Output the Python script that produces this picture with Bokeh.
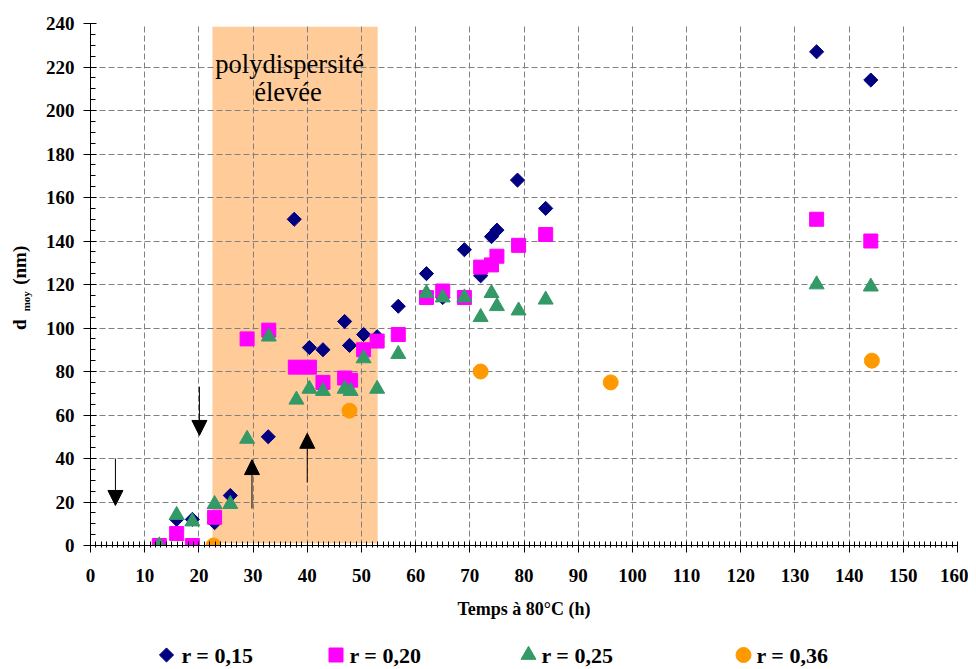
from math import pi
from bokeh.plotting import figure
from bokeh.models import Range1d, SingleIntervalTicker, Label, Arrow, NormalHead
from bokeh.layouts import column, row
from bokeh.embed import file_html
from bokeh.resources import INLINE
from bokeh.core.properties import value

# ---- data ----
r15_x = [15.9, 18.8, 22.9, 25.8, 32.8, 37.6, 40.4, 42.9, 46.9, 47.8, 50.4, 52.9, 56.8, 62, 65, 69, 72, 74, 75, 78.8, 84, 134, 144]
r15_y = [12, 12, 10.5, 23, 50, 150, 91, 90, 103, 92, 97, 96, 110, 125, 114, 136, 124, 142, 145, 168, 155, 227, 214]

r20_x = [12.7, 15.9, 18.8, 22.9, 28.9, 32.9, 37.8, 40.4, 42.9, 46.9, 48, 50.4, 52.9, 56.8, 62, 65, 69, 72, 74, 75, 79, 84, 134, 144]
r20_y = [0, 5.5, 0, 13, 95, 99, 82, 82, 75, 77, 76, 90, 94, 97, 114, 117, 114, 128, 129, 133, 138, 143, 150, 140]

r25_x = [12.7, 15.9, 18.8, 22.9, 25.8, 28.9, 32.9, 38, 40.4, 42.9, 46.9, 48, 50.4, 52.9, 56.8, 62, 65, 69, 72, 74, 75, 79, 84, 134, 144]
r25_y = [0, 14, 11, 19, 19, 49, 96, 67, 72, 71, 72, 71, 86, 72, 88, 116, 114, 114, 105, 116, 110, 108, 113, 120, 119]

r36_x = [22.7, 47.8, 72, 96, 144.2]
r36_y = [0, 62, 80, 75, 85]

series_names = ["r = 0,15", "r = 0,20", "r = 0,25", "r = 0,36"]

band_start, band_end, band_bottom, band_top = 22.5, 53, 1, 238.5
band_text = ["polydispersité", "élevée"]

arrow_x = [4.6, 20.1, 29.8, 40.0]
arrow_y_start = [40, 73, 17, 29]
arrow_y_end = [18.4, 50.6, 39.5, 51.6]

x_label = "Temps à 80°C (h)"
y_label_parts = ["d", "moy", "(nm)"]

NAVY, MAGENTA, GREEN, ORANGE = "#000080", "#FF00FF", "#339966", "#FF9900"
BAND = "#FFCC99"
FONT_NAME = "Liberation Serif"
FONT = value(FONT_NAME)

MAIN_H = 624
YLAB_W = 34

# ---- main figure ----
p = figure(width=934, height=MAIN_H, x_range=Range1d(0, 160), y_range=Range1d(0, 240),
           output_backend="svg", toolbar_location=None,
           min_border_left=56, min_border_right=11, min_border_top=23, min_border_bottom=79)
p.outline_line_color = None

xt = SingleIntervalTicker(interval=10, num_minor_ticks=10)
yt = SingleIntervalTicker(interval=20, num_minor_ticks=4)
p.xaxis.ticker = xt
p.yaxis.ticker = yt
p.xgrid.ticker = xt
p.ygrid.ticker = yt

for g in (p.xgrid, p.ygrid):
    g.grid_line_color = "#808080"
    g.grid_line_dash = "6 3"
    g.grid_line_width = 1

for ax in (p.xaxis, p.yaxis):
    ax.axis_line_color = "black"
    ax.major_tick_line_color = "black"
    ax.minor_tick_line_color = "black"
    ax.major_label_text_font = FONT_NAME
    ax.major_label_text_font_style = "bold"
    ax.major_label_text_font_size = "19px"
    ax.major_label_text_color = "black"

p.xaxis.major_tick_in = 3
p.xaxis.major_tick_out = 7
p.xaxis.minor_tick_in = 4
p.xaxis.minor_tick_out = 2
p.xaxis.major_label_standoff = 16
p.xaxis.axis_label = x_label
p.xaxis.axis_label_text_font = FONT_NAME
p.xaxis.axis_label_text_font_style = "bold"
p.xaxis.axis_label_text_font_size = "18px"
p.xaxis.axis_label_text_color = "black"
p.xaxis.axis_label_standoff = 14

p.yaxis.major_tick_in = 6
p.yaxis.major_tick_out = 7
p.yaxis.minor_tick_in = 5
p.yaxis.minor_tick_out = 0
p.yaxis.major_label_standoff = 9

# shaded band (under grid)
p.quad(left=[band_start], right=[band_end], bottom=[band_bottom], top=[band_top],
       fill_color=BAND, line_color=None, level="image")

# band text
p.add_layout(Label(x=(band_start + band_end) / 2 - 1.0, y=221.5, text=band_text[0],
                   text_font=FONT_NAME, text_font_size="26.5px", text_color="black",
                   text_align="center", text_baseline="middle"))
p.add_layout(Label(x=(band_start + band_end) / 2 - 1.3, y=208.3, text=band_text[1],
                   text_font=FONT_NAME, text_font_size="26.5px", text_color="black",
                   text_align="center", text_baseline="middle"))

# series
p.scatter(r15_x, r15_y, marker="square", size=10, angle=pi / 4,
          fill_color=NAVY, line_color=NAVY)
p.scatter(r20_x, r20_y, marker="square", size=14, fill_color=MAGENTA, line_color=MAGENTA)
p.scatter(r25_x, r25_y, marker="triangle", size=15, fill_color=GREEN, line_color=GREEN)
p.scatter(r36_x, r36_y, marker="circle", size=15, fill_color=ORANGE, line_color=ORANGE)

# arrows
for xa, ys, ye in zip(arrow_x, arrow_y_start, arrow_y_end):
    p.add_layout(Arrow(end=NormalHead(size=15, fill_color="black", line_color="black"),
                       x_start=xa, y_start=ys, x_end=xa, y_end=ye,
                       line_color="black", line_width=1))

# ---- y label strip (pixel coordinates) ----
yl = figure(width=YLAB_W, height=MAIN_H, x_range=Range1d(0, YLAB_W), y_range=Range1d(0, MAIN_H),
            output_backend="svg", toolbar_location=None, min_border=0,
            x_axis_location=None, y_axis_location=None)
yl.outline_line_color = None
yl.grid.visible = False
yl.text(x=[19, 19], y=[MAIN_H - 360, MAIN_H - 289], text=[y_label_parts[0], y_label_parts[2]],
        angle=pi / 2, text_font=FONT, text_font_style="bold",
        text_font_size="19px", text_color="black", text_align="center", text_baseline="middle")
yl.text(x=[25], y=[MAIN_H - 332], text=[y_label_parts[1]],
        angle=pi / 2, text_font=FONT, text_font_style="bold",
        text_font_size="11px", text_color="black", text_align="center", text_baseline="middle")

# ---- legend strip ----
leg_h = 43
lg = figure(width=YLAB_W + 934, height=leg_h, x_range=Range1d(0, YLAB_W + 934), y_range=Range1d(0, leg_h),
            output_backend="svg", toolbar_location=None, min_border=0,
            x_axis_location=None, y_axis_location=None)
lg.outline_line_color = None
lg.grid.visible = False

leg_marker_x = [166, 335.5, 528, 743]
leg_text_x = [181, 349, 541, 756]
leg_y = 12.5
lg.scatter([leg_marker_x[0]], [leg_y], marker="square", size=10, angle=pi / 4,
           fill_color=NAVY, line_color=NAVY)
lg.scatter([leg_marker_x[1]], [leg_y], marker="square", size=14, fill_color=MAGENTA, line_color=MAGENTA)
lg.scatter([leg_marker_x[2]], [leg_y], marker="triangle", size=15, fill_color=GREEN, line_color=GREEN)
lg.scatter([leg_marker_x[3]], [leg_y], marker="circle", size=15, fill_color=ORANGE, line_color=ORANGE)
lg.text(x=leg_text_x, y=[leg_y] * 4, text=series_names, text_font=FONT,
        text_font_style="bold", text_font_size="22px", text_color="black",
        text_align="left", text_baseline="middle")

layout = column(row(yl, p), lg)
open("out.html", "w").write(file_html(layout, INLINE))
